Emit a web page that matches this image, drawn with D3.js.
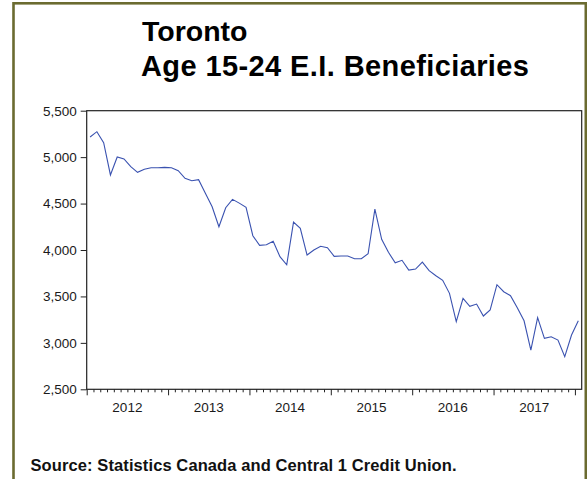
<!DOCTYPE html>
<html>
<head>
<meta charset="utf-8">
<script src="https://cdn.jsdelivr.net/npm/d3@7"></script>
<style>
  html, body { margin: 0; padding: 0; background: #fff; }
  svg { display: block; font-family: "Liberation Sans", Arial, sans-serif; }
</style>
</head>
<body>
<svg id="chart" width="587" height="479"></svg>
<script>
// ---- data ----
const titleLines = ["Toronto", "Age 15-24 E.I. Beneficiaries"];
const sourceText = "Source: Statistics Canada and Central 1 Credit Union.";
const months = [
  "2012-01","2012-02","2012-03","2012-04","2012-05","2012-06","2012-07","2012-08","2012-09","2012-10","2012-11","2012-12",
  "2013-01","2013-02","2013-03","2013-04","2013-05","2013-06","2013-07","2013-08","2013-09","2013-10","2013-11","2013-12",
  "2014-01","2014-02","2014-03","2014-04","2014-05","2014-06","2014-07","2014-08","2014-09","2014-10","2014-11","2014-12",
  "2015-01","2015-02","2015-03","2015-04","2015-05","2015-06","2015-07","2015-08","2015-09","2015-10","2015-11","2015-12",
  "2016-01","2016-02","2016-03","2016-04","2016-05","2016-06","2016-07","2016-08","2016-09","2016-10","2016-11","2016-12",
  "2017-01","2017-02","2017-03","2017-04","2017-05","2017-06","2017-07","2017-08","2017-09","2017-10","2017-11","2017-12",
  "2018-01"
];
const beneficiaries = [
  5217,5274,5155,4808,5001,4980,4897,4836,4869,4886,4886,4890,
  4886,4854,4772,4746,4757,4610,4466,4250,4455,4545,4505,4460,
  4154,4050,4057,4093,3928,3841,4301,4233,3946,4000,4040,4025,
  3932,3935,3935,3906,3906,3960,4441,4115,3975,3863,3889,3784,
  3795,3870,3777,3723,3673,3533,3228,3479,3393,3418,3289,3354,
  3626,3551,3508,3378,3238,2923,3271,3049,3066,3030,2851,3084,
  3238
];
const yearLabels = ["2012","2013","2014","2015","2016","2017"];
const yTicks = [2500,3000,3500,4000,4500,5000,5500];

// ---- layout ----
const svg = d3.select("#chart");
const plot = { left: 86.7, top: 110.7, right: 581.7, bottom: 389.3 };

// outer olive frame (bottom edge runs off the picture)
svg.append("rect")
  .attr("x", 13.5).attr("y", 3.3)
  .attr("width", 572.3).attr("height", 520)
  .attr("fill", "#fff")
  .attr("stroke", "#6b6b30").attr("stroke-width", 2.6);

// titles
svg.append("text").attr("x", 142).attr("y", 40.7)
  .attr("font-size", 28.5).attr("font-weight", "bold").attr("fill", "#000")
  .text(titleLines[0]);
svg.append("text").attr("x", 141).attr("y", 75.5)
  .attr("font-size", 29).attr("font-weight", "bold").attr("fill", "#000")
  .attr("letter-spacing", 0.4)
  .text(titleLines[1]);

// scales
const x = d3.scaleLinear().domain([-0.5, months.length - 0.5]).range([plot.left, plot.right]);
const y = d3.scaleLinear().domain([2500, 5500]).range([plot.bottom, plot.top]);

// y axis
const yAxis = d3.axisLeft(y).tickValues(yTicks).tickFormat(d3.format(",")).tickSize(6).tickPadding(4);
const gy = svg.append("g").attr("transform", `translate(${plot.left},0)`).call(yAxis);
gy.select(".domain").remove();
gy.selectAll(".tick line").attr("stroke", "#222");
gy.selectAll(".tick text").attr("font-size", 13.5).attr("fill", "#1a1a1a")
  .attr("font-family", "'Liberation Sans', Arial, sans-serif");

// x axis: monthly minor ticks, yearly major ticks, year labels centered on each year
const boundaries = d3.range(0, months.length).map(i => i - 0.5);
const minor = boundaries.filter(b => months[b + 0.5].slice(5) !== "01");
const major = boundaries.filter(b => months[b + 0.5].slice(5) === "01");

const gxMinor = svg.append("g").attr("transform", `translate(0,${plot.bottom})`)
  .call(d3.axisBottom(x).tickValues(minor).tickSize(3).tickFormat(""));
gxMinor.select(".domain").remove();
gxMinor.selectAll(".tick line").attr("stroke", "#222");

const gxMajor = svg.append("g").attr("transform", `translate(0,${plot.bottom})`)
  .call(d3.axisBottom(x).tickValues(major).tickSize(6).tickFormat(""));
gxMajor.select(".domain").remove();
gxMajor.selectAll(".tick line").attr("stroke", "#222");

const yearCenters = yearLabels.map(yr => {
  const idx = months.filter(m => m.startsWith(yr)).map(m => months.indexOf(m));
  return { label: yr, pos: (d3.min(idx) + d3.max(idx)) / 2 };
});
svg.append("g").selectAll("text").data(yearCenters).join("text")
  .attr("x", d => x(d.pos)).attr("y", 411.5)
  .attr("text-anchor", "middle").attr("font-size", 13.5).attr("fill", "#1a1a1a")
  .text(d => d.label);

// plot frame
svg.append("rect")
  .attr("x", plot.left).attr("y", plot.top)
  .attr("width", plot.right - plot.left).attr("height", plot.bottom - plot.top)
  .attr("fill", "none").attr("stroke", "#222").attr("stroke-width", 1.2);

// series line
const line = d3.line().x((d, i) => x(i)).y(d => y(d));
svg.append("path").datum(beneficiaries)
  .attr("d", line).attr("fill", "none")
  .attr("stroke", "#3a52b0").attr("stroke-width", 1.1);

// source
svg.append("text").attr("x", 30.5).attr("y", 471)
  .attr("font-size", 16.5).attr("font-weight", "bold").attr("fill", "#111")
  .attr("letter-spacing", 0.1)
  .text(sourceText);
</script>
</body>
</html>
